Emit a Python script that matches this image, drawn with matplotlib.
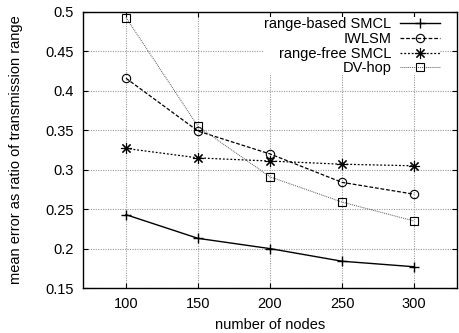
import matplotlib
matplotlib.use("Agg")
import matplotlib.pyplot as plt
from matplotlib.ticker import FormatStrFormatter

plt.rcParams['font.family'] = ['Liberation Sans', 'DejaVu Sans']

# datos
nodes = [100, 150, 200, 250, 300]
range_based = [0.243, 0.213, 0.200, 0.184, 0.177]
iwlsm = [0.416, 0.349, 0.320, 0.284, 0.269]
range_free = [0.327, 0.315, 0.311, 0.307, 0.305]
dv_hop = [0.493, 0.355, 0.291, 0.259, 0.235]

fs = 10.5

fig = plt.figure(figsize=(4.6, 3.33), dpi=100)
ax = fig.add_axes([0.180, 0.135, 0.814, 0.829])

ax.plot(nodes, range_based, color='black', lw=1.0, marker='+', ms=7,
        mew=1.0, label='range-based SMCL')
ax.plot(nodes, iwlsm, color='black', lw=0.9, ls=(0, (3, 1.5)), marker='o',
        ms=6, mfc='none', mew=0.8, label='IWLSM')
ax.plot(nodes, range_free, color='black', lw=0.9, ls=(0, (1.5, 1.5)),
        marker=(8, 2, 0), ms=8, mew=0.8, label='range-free SMCL')
ax.plot(nodes, dv_hop, color='#555555', lw=0.7, ls=(0, (1, 1)), marker='s',
        ms=6, mfc='none', mec='black', mew=0.8, label='DV-hop')

ax.set_xlim(70, 330)
ax.set_ylim(0.15, 0.5)
ax.set_xticks(nodes)
ax.set_yticks([0.15, 0.2, 0.25, 0.3, 0.35, 0.4, 0.45, 0.5])
ax.yaxis.set_major_formatter(FormatStrFormatter('%g'))
ax.tick_params(direction='in', length=3.8, width=0.8, top=True, right=True,
               labelsize=fs, pad=6.5)
ax.grid(True, color='#999999', ls=(0, (1, 1.2)), lw=0.8)
for s in ax.spines.values():
    s.set_linewidth(1.0)

ax.set_xlabel("number of nodes", fontsize=fs, va='center')
ax.set_ylabel("mean error as ratio of transmission range", fontsize=fs,
              va='center')
ax.xaxis.set_label_coords(0.5, -0.134)
ax.yaxis.set_label_coords(-0.178, 0.5)

leg = ax.legend(loc='upper right', bbox_to_anchor=(0.968, 1.0),
                markerfirst=False, fontsize=fs,
                handlelength=2.75, handletextpad=0.6, labelspacing=0.05,
                borderaxespad=0.36, borderpad=0.0, frameon=True, fancybox=False)
leg.get_frame().set_edgecolor('none')
leg.get_frame().set_facecolor('white')
leg.get_frame().set_alpha(1.0)

# alinear etiquetas de la leyenda a la derecha
for col in leg._legend_handle_box.get_children():
    col.align = 'right'

fig.savefig("out.png", dpi=100)
